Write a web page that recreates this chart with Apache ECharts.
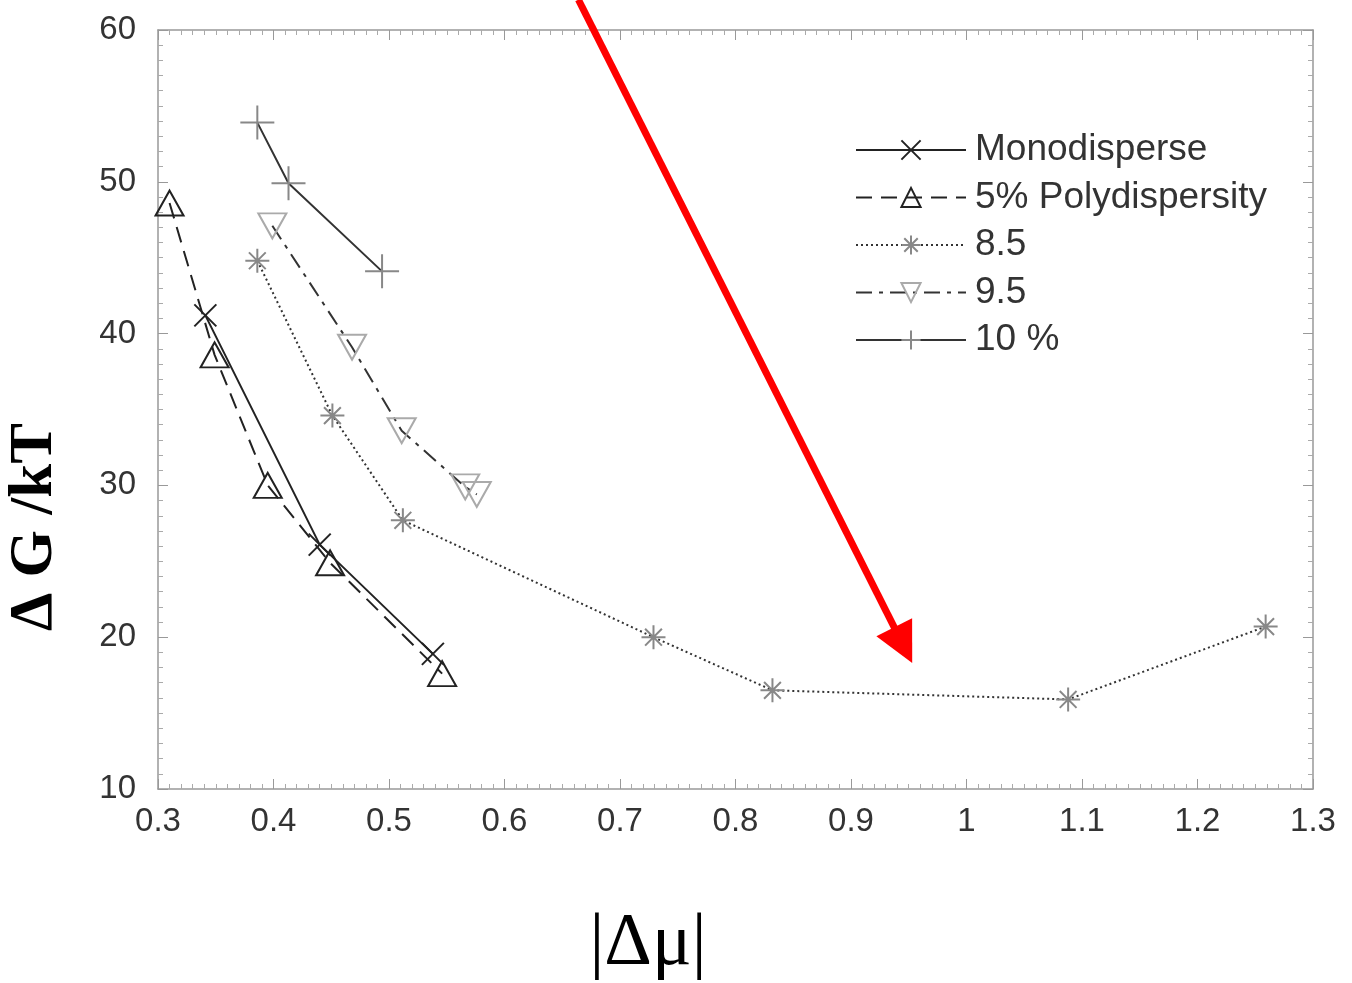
<!DOCTYPE html>
<html>
<head>
<meta charset="utf-8">
<script src="https://cdn.jsdelivr.net/npm/echarts@6/dist/echarts.min.js"></script>
<style>
  html, body { margin: 0; padding: 0; background: #fff; }
  #chart { width: 1352px; height: 983px; }
</style>
</head>
<body>
<div id="chart"></div>
<script>
// values: [|Δμ|, ΔG/kT]
var mono = [[0.341, 41.2], [0.440, 26.1], [0.538, 18.9]];
var poly5 = [[0.310, 48.6], [0.349, 38.6], [0.395, 30.0], [0.449, 24.9], [0.546, 17.6]];
var poly85 = [[0.386, 44.8], [0.451, 34.6], [0.512, 27.7], [0.729, 20.0], [0.832, 16.5], [1.088, 15.9], [1.259, 20.7]];
var poly95 = [[0.399, 47.1], [0.468, 39.1], [0.511, 33.6], [0.566, 29.9], [0.576, 29.4]];
var poly10 = [[0.386, 53.9], [0.413, 49.9], [0.494, 44.1]];
var seriesNames = ['Monodisperse', '5% Polydispersity', '8.5', '9.5', '10 %'];
// red arrow annotation, in data units
var arrowFrom = [0.664, 62.0];
var arrowTo = [0.953, 18.3];

var chart = echarts.init(document.getElementById('chart'));

var SYM_X = 'path://M0,0L10,10M10,0L0,10';
var SYM_UP = 'path://M5,0L10,9L0,9Z';
var SYM_DOWN = 'path://M0,0L10,0L5,9Z';
var SYM_STAR = 'path://M5,0L5,10M0,5L10,5M1.5,1.5L8.5,8.5M8.5,1.5L1.5,8.5';
var SYM_PLUS = 'path://M5,0L5,10M0,5L10,5';

var tickFont = { fontFamily: 'Liberation Sans', fontSize: 33, color: '#333' };

function frameAxis(extra) {
  return Object.assign({
    axisLine: { show: true, lineStyle: { color: '#999', width: 1.5 } },
    axisTick: { show: true, inside: true, length: 10, lineStyle: { color: '#999' } },
    minorTick: { show: true, splitNumber: 10, length: 5, lineStyle: { color: '#aaa' } },
    splitLine: { show: false }
  }, extra);
}

function makeSeries(name, data, symbol, size, markColor, lineColor, lineType, lineWidth) {
  return {
    name: name,
    type: 'line',
    data: data,
    symbol: symbol,
    symbolSize: size,
    showAllSymbol: true,
    itemStyle: { color: 'rgba(0,0,0,0)', borderColor: markColor, borderWidth: 2 },
    lineStyle: { color: lineColor, type: lineType, width: lineWidth },
    emphasis: { disabled: true },
    z: 3
  };
}

var option = {
  animation: false,
  backgroundColor: '#fff',
  grid: { left: 158, right: 39, top: 30, bottom: 194 },
  xAxis: [
    frameAxis({
      type: 'value', min: 0.3, max: 1.3, interval: 0.1,
      axisLabel: Object.assign({ margin: 16, formatter: function (v) { return String(+v.toFixed(1)); } }, tickFont)
    }),
    frameAxis({
      type: 'value', position: 'top', min: 0.3, max: 1.3, interval: 0.1,
      axisLabel: { show: false }
    })
  ],
  yAxis: [
    frameAxis({
      type: 'value', min: 10, max: 60, interval: 10,
      axisLabel: Object.assign({ margin: 22 }, tickFont)
    }),
    frameAxis({
      type: 'value', position: 'right', min: 10, max: 60, interval: 10,
      axisLabel: { show: false }
    })
  ],
  legend: {
    orient: 'vertical',
    left: 850,
    top: 125,
    itemWidth: 110,
    itemHeight: 24,
    itemGap: 7.5,
    selectedMode: false,
    textStyle: { fontFamily: 'Liberation Sans', fontSize: 37, lineHeight: 40, color: '#333', padding: [0, 0, 0, 4] },
    data: seriesNames
  },
  series: [
    makeSeries(seriesNames[0], mono, SYM_X, 22, '#222', '#222', 'solid', 2),
    makeSeries(seriesNames[1], poly5, SYM_UP, [28, 25], '#222', '#222', [16, 9], 2),
    makeSeries(seriesNames[2], poly85, SYM_STAR, 24, '#888', '#333', [2, 3], 2),
    makeSeries(seriesNames[3], poly95, SYM_DOWN, [28, 25], '#aaa', '#333', [16, 7, 4, 7], 2),
    makeSeries(seriesNames[4], poly10, SYM_PLUS, 34, '#888', '#333', 'solid', 2)
  ],
  graphic: [
    {
      id: 'ytitle', type: 'text', x: 35, y: 527, rotation: Math.PI / 2,
      style: { text: 'Δ G /kT', fontFamily: 'Liberation Serif', fontWeight: 'bold', fontSize: 61, fill: '#000', align: 'center', verticalAlign: 'middle' }
    },
    {
      id: 'xtitle', type: 'text', x: 648, y: 945,
      style: { text: '|Δμ|', fontFamily: 'Liberation Serif', fontSize: 74, fill: '#000', align: 'center', verticalAlign: 'middle' }
    }
  ]
};

chart.setOption(option);

// red annotation arrow, positioned through the axes
var p0 = chart.convertToPixel({ gridIndex: 0 }, arrowFrom);
var p1 = chart.convertToPixel({ gridIndex: 0 }, arrowTo);
var dx = p1[0] - p0[0], dy = p1[1] - p0[1];
var len = Math.sqrt(dx * dx + dy * dy);
var ux = dx / len, uy = dy / len;
var headLen = 40, headHalf = 20;
var bx = p1[0] - ux * headLen, by = p1[1] - uy * headLen;
chart.setOption({
  graphic: [
    {
      id: 'arrowLine', type: 'line', z: 10,
      shape: { x1: p0[0], y1: p0[1], x2: bx + ux * 4, y2: by + uy * 4 },
      style: { stroke: '#ff0000', lineWidth: 7 }
    },
    {
      id: 'arrowHead', type: 'polygon', z: 10,
      shape: { points: [[p1[0], p1[1]], [bx - uy * headHalf, by + ux * headHalf], [bx + uy * headHalf, by - ux * headHalf]] },
      style: { fill: '#ff0000' }
    }
  ]
});
</script>
</body>
</html>
